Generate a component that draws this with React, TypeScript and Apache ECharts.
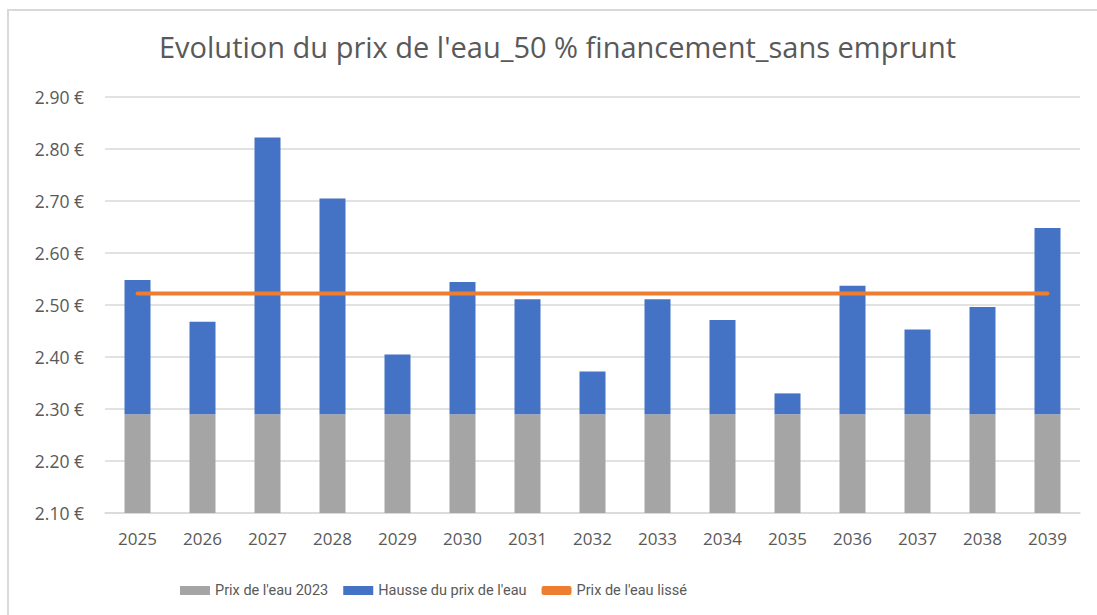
import React, { useEffect, useRef } from "react";
import * as echarts from "echarts";

const years = ["2025","2026","2027","2028","2029","2030","2031","2032","2033","2034","2035","2036","2037","2038","2039"];
const basePrice = [2.29,2.29,2.29,2.29,2.29,2.29,2.29,2.29,2.29,2.29,2.29,2.29,2.29,2.29,2.29];
const totalPrice = [2.548,2.468,2.822,2.705,2.405,2.544,2.511,2.372,2.511,2.471,2.330,2.537,2.453,2.496,2.648];
const smoothed = [2.522,2.522,2.522,2.522,2.522,2.522,2.522,2.522,2.522,2.522,2.522,2.522,2.522,2.522,2.522];
const increase = totalPrice.map((t, i) => +(t - basePrice[i]).toFixed(3));

const FONT = "Open Sans";

export default function App() {
  const ref = useRef<HTMLDivElement>(null);
  useEffect(() => {
    document.body.style.margin = "0";
    const chart = echarts.init(ref.current!, null, { renderer: "svg" });
    chart.setOption({
      animation: false,
      backgroundColor: "#ffffff",
      title: {
        text: "Evolution du prix de l'eau_50 % financement_sans emprunt",
        left: 154,
        top: 27,
        textStyle: { fontFamily: FONT, fontSize: 29, fontWeight: "normal", color: "#595959" },
      },
      legend: {
        left: 175,
        top: 578,
        itemWidth: 30,
        itemHeight: 9,
        itemGap: 15,
        textStyle: { fontFamily: "Roboto", fontSize: 14.5, color: "#595959" },
        data: [
          { name: "Prix de l'eau 2023", icon: "rect" },
          { name: "Hausse du prix de l'eau", icon: "rect" },
          { name: "Prix de l'eau lissé", icon: "roundRect", itemStyle: { color: "#ed7d31" } },
        ],
      },
      grid: { left: 105, right: 17, top: 97, height: 416, containLabel: false },
      xAxis: {
        type: "category",
        data: years,
        axisLine: { lineStyle: { color: "#d9d9d9", width: 1.5 } },
        axisTick: { show: false },
        axisLabel: { fontFamily: FONT, fontSize: 17, color: "#595959", margin: 17 },
      },
      yAxis: {
        type: "value",
        min: 2.1,
        max: 2.9,
        interval: 0.1,
        axisLine: { show: false },
        axisTick: { show: false },
        splitLine: { lineStyle: { color: "#d9d9d9", width: 1.5 } },
        axisLabel: {
          fontFamily: FONT,
          fontSize: 17.5,
          color: "#595959",
          margin: 21,
          formatter: (v: number) => v.toFixed(2) + " €",
        },
      },
      graphic: [
        { type: "line", shape: { x1: 7, y1: 10, x2: 1097, y2: 10 }, style: { stroke: "#d9d9d9", lineWidth: 2 }, silent: true },
        { type: "line", shape: { x1: 8, y1: 9, x2: 8, y2: 615 }, style: { stroke: "#d9d9d9", lineWidth: 2 }, silent: true },
      ],
      series: [
        {
          name: "Prix de l'eau 2023",
          type: "bar",
          stack: "p",
          data: basePrice,
          barWidth: 26,
          itemStyle: { color: "#a5a5a5" },
        },
        {
          name: "Hausse du prix de l'eau",
          type: "bar",
          stack: "p",
          data: increase,
          barWidth: 26,
          itemStyle: { color: "#4472c4" },
        },
        {
          name: "Prix de l'eau lissé",
          type: "line",
          data: smoothed,
          symbol: "none",
          lineStyle: { color: "#ed7d31", width: 4, cap: "round" },
          itemStyle: { color: "#ed7d31" },
          z: 5,
        },
      ],
    });
    return () => chart.dispose();
  }, []);
  return <div ref={ref} style={{ width: 1097, height: 615 }} />;
}
